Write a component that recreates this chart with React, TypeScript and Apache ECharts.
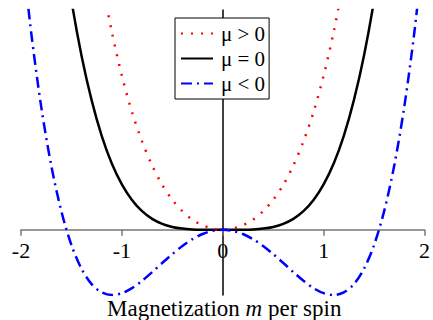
import React, { useEffect, useRef } from "react";
import * as echarts from "echarts";

const mValues = [
  -2.0, -1.9, -1.8, -1.7, -1.6, -1.5, -1.4, -1.3, -1.2, -1.1, -1.0, -0.9, -0.8, -0.7, -0.6, -0.5, -0.4, -0.3, -0.2, -0.1,
  0, 0.1, 0.2, 0.3, 0.4, 0.5, 0.6, 0.7, 0.8, 0.9, 1.0, 1.1, 1.2, 1.3, 1.4, 1.5, 1.6, 1.7, 1.8, 1.9, 2.0,
];

const fPositive = [
  25.6, 21.7, 18.28, 15.29, 12.7, 10.46, 8.55, 6.91, 5.53, 4.37, 3.4, 2.6, 1.95, 1.42, 0.99, 0.66, 0.41, 0.22, 0.1, 0.024,
  0, 0.024, 0.1, 0.22, 0.41, 0.66, 0.99, 1.42, 1.95, 2.6, 3.4, 4.37, 5.53, 6.91, 8.55, 10.46, 12.7, 15.29, 18.28, 21.7, 25.6,
];

const fZero = [
  16, 13.03, 10.5, 8.35, 6.55, 5.06, 3.84, 2.86, 2.07, 1.46, 1.0, 0.656, 0.41, 0.24, 0.13, 0.0625, 0.0256, 0.0081, 0.0016, 0.0001,
  0, 0.0001, 0.0016, 0.0081, 0.0256, 0.0625, 0.13, 0.24, 0.41, 0.656, 1.0, 1.46, 2.07, 2.86, 3.84, 5.06, 6.55, 8.35, 10.5, 13.03, 16,
];

const fNegative = [
  6.4, 4.37, 2.72, 1.416, 0.41, -0.338, -0.862, -1.2, -1.382, -1.44, -1.4, -1.288, -1.126, -0.936, -0.734, -0.538, -0.358, -0.208, -0.094, -0.024,
  0, -0.024, -0.094, -0.208, -0.358, -0.538, -0.734, -0.936, -1.126, -1.288, -1.4, -1.44, -1.382, -1.2, -0.862, -0.338, 0.41, 1.416, 2.72, 4.37, 6.4,
];

const xTicks = [-2, -1, 0, 1, 2];
const seriesNames = ["μ > 0", "μ = 0", "μ < 0"];
const yMin = -1.44;
const yMax = 4.85;

const FONT = "Liberation Serif";

const pair = (ys: number[]) => mValues.map((m, i) => [m, ys[i]]);

export default function App() {
  const ref = useRef<HTMLDivElement>(null);
  useEffect(() => {
    if (!ref.current) return;
    const chart = echarts.init(ref.current, undefined, { renderer: "svg" });
    const gridTop = 10;
    const gridBottom = 25;
    const gridH = 320 - gridTop - gridBottom;
    // move the x axis (line, ticks, labels) up to where y = 0 lies
    const zeroOffset = -((0 - yMin) / (yMax - yMin)) * gridH;
    chart.setOption({
      animation: false,
      backgroundColor: "#ffffff",
      grid: { left: 21, right: 5, top: gridTop, bottom: gridBottom, containLabel: false },
      title: {
        text: "Magnetization {i|m} per spin",
        left: 107,
        top: 297,
        padding: 0,
        textStyle: {
          fontFamily: FONT,
          fontSize: 23,
          fontWeight: "normal",
          color: "#000",
          rich: {
            i: { fontFamily: FONT, fontSize: 23, fontStyle: "italic", color: "#000" },
          },
        },
      },
      legend: {
        orient: "vertical",
        left: 175,
        top: 18,
        padding: [5, 4, 5, 5],
        itemGap: 4,
        itemWidth: 32,
        itemHeight: 20,
        backgroundColor: "#ffffff",
        borderColor: "#000",
        borderWidth: 1,
        borderRadius: 0,
        data: seriesNames,
        itemStyle: { opacity: 0 },
        textStyle: { fontFamily: FONT, fontSize: 21, color: "#000", padding: [0, 0, 0, 3] },
      },
      xAxis: {
        type: "value",
        min: -2,
        max: 2,
        interval: 1,
        position: "bottom",
        offset: zeroOffset,
        axisLine: { onZero: false, lineStyle: { color: "#777", width: 1.5 } },
        axisTick: { show: true, length: 6, lineStyle: { color: "#777", width: 1.5 } },
        axisLabel: {
          fontFamily: FONT,
          fontSize: 22,
          color: "#000",
          margin: 10,
          formatter: (v: number) => (xTicks.includes(v) ? String(v) : ""),
        },
        splitLine: { show: false },
      },
      yAxis: {
        type: "value",
        min: yMin,
        max: yMax,
        axisLine: { show: true, onZero: true, lineStyle: { color: "#000", width: 1.5 } },
        axisTick: { show: false },
        axisLabel: { show: false },
        splitLine: { show: false },
      },
      series: [
        {
          name: seriesNames[1],
          type: "line",
          data: pair(fZero),
          symbol: "none",
          smooth: 0.3,
          clip: true,
          lineStyle: { color: "#000", width: 2.5, type: "solid" },
          itemStyle: { color: "#000" },
          z: 2,
        },
        {
          name: seriesNames[0],
          type: "line",
          data: pair(fPositive),
          symbol: "none",
          smooth: 0.3,
          clip: true,
          lineStyle: { color: "#ff0000", width: 2.5, type: [2, 8] },
          itemStyle: { color: "#ff0000" },
          z: 3,
        },
        {
          name: seriesNames[2],
          type: "line",
          data: pair(fNegative),
          symbol: "none",
          smooth: 0.3,
          clip: true,
          lineStyle: { color: "#0000ff", width: 2.5, type: [11, 5, 2, 5] },
          itemStyle: { color: "#0000ff" },
          z: 4,
        },
      ],
    });
    return () => chart.dispose();
  }, []);
  return <div ref={ref} style={{ width: 433, height: 320, position: "absolute", left: 0, top: 0 }} />;
}
